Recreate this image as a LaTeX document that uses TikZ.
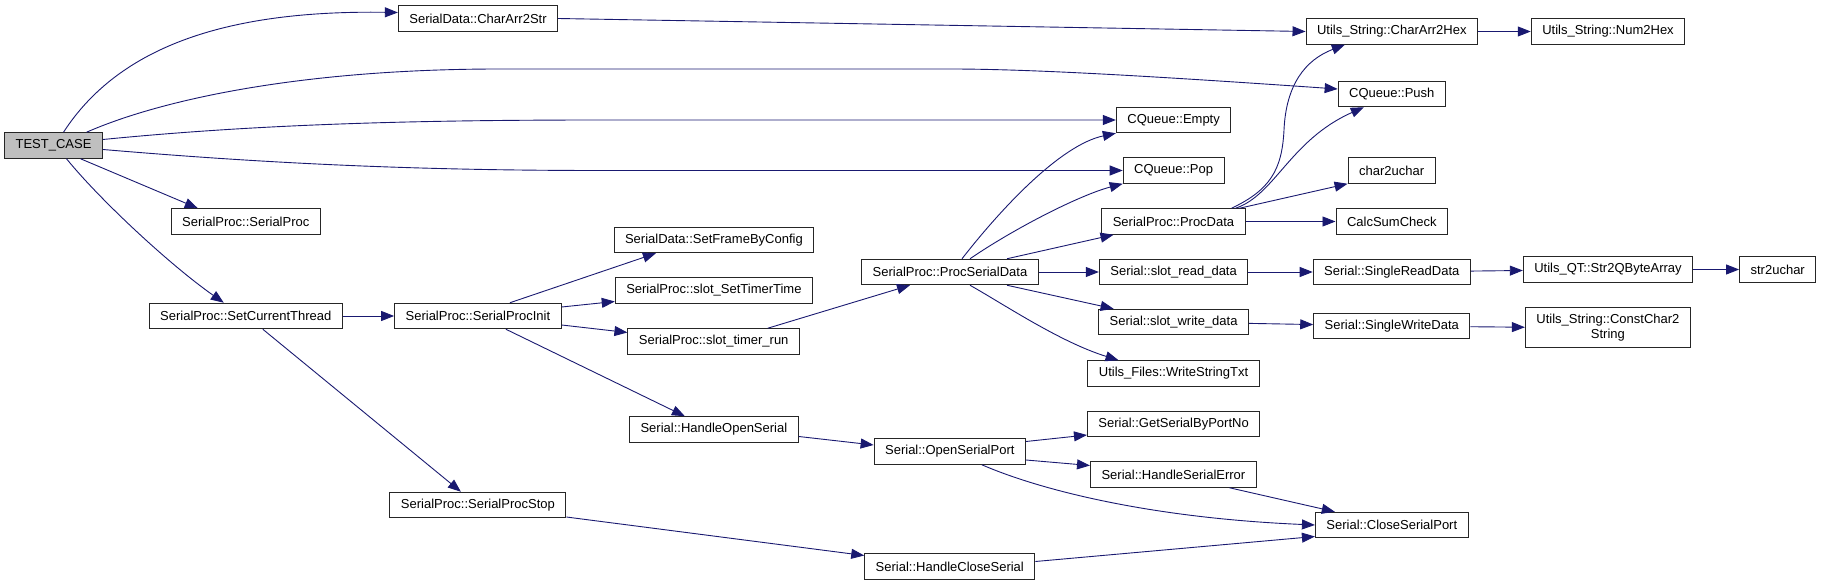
\documentclass[tikz,border=0pt]{standalone}
\usepackage{fontspec}
\setmainfont{Liberation Sans}
\usetikzlibrary{arrows.meta}
\definecolor{edgeblue}{HTML}{191970}
\definecolor{curgray}{HTML}{BFBFBF}
\tikzset{
  ar/.style={-{Triangle[length=13pt,width=10pt]},line width=0.9pt,edgeblue},
  fn/.style={draw=black!85,line width=1pt,fill=white,inner xsep=11pt,inner ysep=0pt,minimum height=25.5pt,font=\fontsize{13}{15}\selectfont,align=center}
}
\begin{document}
\begin{tikzpicture}[x=1pt,y=-1pt]
\useasboundingbox (0,0) rectangle (1829,585);
\node[fn,fill=curgray] (tc) at (53.5,145.5) {TEST\_CASE};
\node[fn] (cas) at (478,18.5) {SerialData::CharArr2Str};
\node[fn] (sp) at (245.8,221.5) {SerialProc::SerialProc};
\node[fn] (sct) at (245.8,316) {SerialProc::SetCurrentThread};
\node[fn] (spi) at (477.9,316) {SerialProc::SerialProcInit};
\node[fn] (sps) at (477.9,505) {SerialProc::SerialProcStop};
\node[fn] (sfc) at (713.9,240) {SerialData::SetFrameByConfig};
\node[fn] (sst) at (713.9,290.5) {SerialProc::slot\_SetTimerTime};
\node[fn] (str) at (713.7,341.5) {SerialProc::slot\_timer\_run};
\node[fn] (hos) at (713.9,429.5) {Serial::HandleOpenSerial};
\node[fn] (psd) at (950,272) {SerialProc::ProcSerialData};
\node[fn] (osp) at (949.8,451.5) {Serial::OpenSerialPort};
\node[fn] (hcs) at (949.8,566.5) {Serial::HandleCloseSerial};
\node[fn] (empty) at (1173.6,120) {CQueue::Empty};
\node[fn] (pop) at (1173.6,170.5) {CQueue::Pop};
\node[fn] (pd) at (1173.5,221.5) {SerialProc::ProcData};
\node[fn] (srd) at (1173.6,272) {Serial::slot\_read\_data};
\node[fn] (swd) at (1173.6,322) {Serial::slot\_write\_data};
\node[fn] (wst) at (1173.5,373.5) {Utils\_Files::WriteStringTxt};
\node[fn] (gsp) at (1173.6,424) {Serial::GetSerialByPortNo};
\node[fn] (hse) at (1173.4,474.5) {Serial::HandleSerialError};
\node[fn] (cah) at (1391.8,31.5) {Utils\_String::CharArr2Hex};
\node[fn] (push) at (1391.8,94) {CQueue::Push};
\node[fn] (c2u) at (1391.6,170.5) {char2uchar};
\node[fn] (csc) at (1391.8,221.5) {CalcSumCheck};
\node[fn] (sgr) at (1391.8,272) {Serial::SingleReadData};
\node[fn] (sgw) at (1391.8,326) {Serial::SingleWriteData};
\node[fn] (csp) at (1391.8,525) {Serial::CloseSerialPort};
\node[fn] (n2h) at (1608,31.5) {Utils\_String::Num2Hex};
\node[fn] (s2q) at (1608,269.5) {Utils\_QT::Str2QByteArray};
\node[fn,minimum height=40pt] (cc2) at (1607.9,328) {Utils\_String::ConstChar2\\String};
\node[fn] (s2u) at (1777.7,269.5) {str2uchar};
\draw[ar] ([xshift=10pt]tc.north) .. controls (120,45) and (230,10) .. ([yshift=6pt]cas.west);
\draw[ar] ([xshift=33pt]tc.north) .. controls (160,100) and (300,69) .. (500,69) -- (950,69) .. controls (1030,69) and (1150,76) .. ([yshift=5pt]push.west);
\draw[ar] ([yshift=6pt]tc.east) .. controls (250,125) and (400,120) .. (600,120) -- (empty.west);
\draw[ar] ([yshift=-4pt]tc.east) .. controls (250,162) and (400,170.5) .. (600,170.5) -- (pop.west);
\draw[ar] ([xshift=27pt]tc.south) -- ([xshift=-48pt]sp.north);
\draw[ar] ([xshift=13pt]tc.south) .. controls (100,200) and (170,265) .. ([xshift=-22pt]sct.north);
\draw[ar] (cas.east) -- (cah.west);
\draw[ar] (cah) -- (n2h);
\draw[ar] (sct) -- (spi);
\draw[ar] ([xshift=17pt]sct.south) -- ([xshift=-17pt]sps.north);
\draw[ar] ([xshift=32pt]spi.north) -- ([xshift=-58pt]sfc.south);
\draw[ar] ([yshift=9pt]spi.east) -- ([yshift=-11pt]sst.west);
\draw[ar] ([yshift=-9pt]spi.east) -- ([yshift=9pt]str.west);
\draw[ar] ([xshift=28pt]spi.south) -- ([xshift=-29pt]hos.north);
\draw[ar] ([xshift=54pt]str.north) -- ([xshift=-40pt]psd.south);
\draw[ar] ([xshift=12pt]psd.north) .. controls (1000,210) and (1060,145) .. (empty.south west);
\draw[ar] ([xshift=20pt]psd.north) .. controls (1015,228) and (1080,195) .. (pop.south west);
\draw[ar] ([xshift=57pt]psd.north) -- ([xshift=-60pt]pd.south);
\draw[ar] (psd) -- (srd);
\draw[ar] ([xshift=57pt]psd.south) -- ([xshift=-60pt]swd.north);
\draw[ar] ([xshift=20pt]psd.south) .. controls (1005,305) and (1060,342) .. ([xshift=-55pt]wst.north);
\draw[ar] ([xshift=58pt]pd.north) .. controls (1270,190) and (1282,170) .. (1284,130) .. controls (1286,85) and (1305,60) .. ([xshift=-47pt]cah.south);
\draw[ar] ([xshift=62pt]pd.north) .. controls (1275,195) and (1290,140) .. ([xshift=-28pt]push.south);
\draw[ar] ([xshift=66pt]pd.north) -- (c2u.south west);
\draw[ar] (pd) -- (csc);
\draw[ar] (srd) -- (sgr);
\draw[ar] (sgr) -- (s2q);
\draw[ar] (s2q) -- (s2u);
\draw[ar] (swd) -- (sgw);
\draw[ar] (sgw) -- (cc2);
\draw[ar] ([yshift=-7pt]hos.east) -- ([yshift=6.5pt]osp.west);
\draw[ar] ([yshift=10pt]osp.east) -- ([yshift=-11pt]gsp.west);
\draw[ar] ([yshift=-8.5pt]osp.east) -- ([yshift=9pt]hse.west);
\draw[ar] ([xshift=32pt]osp.south) .. controls (1040,490) and (1150,518) .. (csp.west);
\draw[ar] ([xshift=56pt]hse.south) -- ([xshift=-57pt]csp.north);
\draw[ar] ([yshift=-12pt]sps.east) -- ([yshift=11pt]hcs.west);
\draw[ar] ([yshift=5pt]hcs.east) -- ([yshift=-11.5pt]csp.west);
\end{tikzpicture}
\end{document}
